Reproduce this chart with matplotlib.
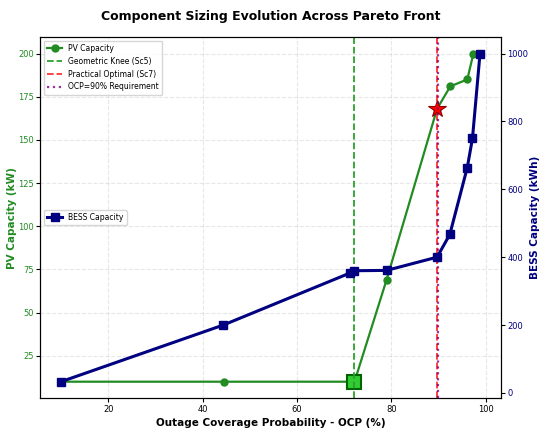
import numpy as np
import matplotlib.pyplot as plt

# data
ocp_pv = [10.0, 44.5, 71.3, 72.2, 79.0, 89.7, 92.5, 96.1, 97.4]
pv_kw = [10, 10, 10, 10, 69, 168, 181, 185, 200]

ocp_bess = [10.0, 44.4, 71.2, 72.1, 79.0, 89.7, 92.4, 96.1, 97.2, 98.8]
bess_kwh = [33, 200, 353, 360, 361, 400, 467, 664, 750, 1000]

knee_ocp, knee_pv = 72.2, 10
opt_ocp, opt_pv = 89.7, 168
req_ocp = 90.0

plt.rcParams['font.family'] = 'DejaVu Sans'

fig, ax1 = plt.subplots(figsize=(5.41, 4.37), dpi=100)
fig.subplots_adjust(left=0.074, right=0.926, top=0.915, bottom=0.089)

ax1.plot(ocp_pv, pv_kw, '-o', color='forestgreen', lw=1.6, ms=5, label='PV Capacity')
ax1.plot(knee_ocp, knee_pv, 's', color='limegreen', mec='darkgreen', mew=1.5, ms=10)
ax1.plot(opt_ocp, opt_pv, '*', color='red', mec='darkred', mew=0.8, ms=13)
ax1.axvline(knee_ocp, color='tab:green', ls='--', lw=1.3, label='Geometric Knee (Sc5)')
ax1.axvline(opt_ocp, color='red', ls='--', lw=1.3, alpha=0.8, label='Practical Optimal (Sc7)')
ax1.axvline(req_ocp, color='purple', ls=':', lw=1.6, alpha=0.8, label='OCP=90% Requirement')

ax1.set_xlabel('Outage Coverage Probability - OCP (%)', fontsize=7.5, fontweight='bold', labelpad=3)
ax1.set_ylabel('PV Capacity (kW)', fontsize=7.5, fontweight='bold', color='forestgreen', labelpad=1)
ax1.tick_params(axis='y', labelcolor='forestgreen', labelsize=6, length=3, pad=1.5)
ax1.tick_params(axis='x', labelsize=6, length=3, pad=2)
ax1.grid(True, ls='--', alpha=0.3)
ax1.set_yticks([25, 50, 75, 100, 125, 150, 175, 200])

ax2 = ax1.twinx()
ax2.plot(ocp_bess, bess_kwh, '-s', color='navy', lw=2.2, ms=6, label='BESS Capacity')
ax2.set_ylabel('BESS Capacity (kWh)', fontsize=7.5, fontweight='bold', color='navy', labelpad=1)
ax2.tick_params(axis='y', labelcolor='navy', labelsize=6, length=3, pad=1.5)

ax1.legend(loc='upper left', fontsize=5.5)
ax2.legend(loc='center left', fontsize=5.5)

ax1.set_title('Component Sizing Evolution Across Pareto Front', fontsize=9, fontweight='bold', pad=12)

plt.savefig('out.png', dpi=100)
